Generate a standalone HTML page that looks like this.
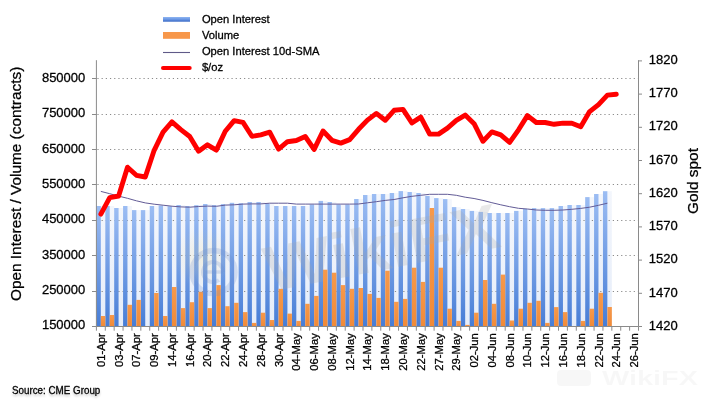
<!DOCTYPE html>
<html><head><meta charset="utf-8"><style>
html,body{margin:0;padding:0;background:#fff;}
body{width:709px;height:406px;overflow:hidden;position:relative;font-family:"Liberation Sans",Arial,sans-serif;}
svg{position:absolute;left:0;top:0;}
text{stroke:#000;stroke-width:0.28px;}
.grid{stroke:#8a8a8a;stroke-width:1;stroke-dasharray:1.2 2.99;}
.ax{stroke:#8a8a8a;stroke-width:1;}
.yl{font-size:13px;fill:#000;}
.xl{font-size:11.25px;fill:#000;}
.lg{font-size:11.2px;fill:#000;}
.tt{font-size:15.4px;fill:#000;}
.src{font-size:10.3px;fill:#000;}
</style></head><body>
<svg width="709" height="406" viewBox="0 0 709 406">
<defs>
<linearGradient id="gb" x1="0" y1="0" x2="0" y2="1">
<stop offset="0" stop-color="#9cbdf3"/><stop offset="1" stop-color="#477dd6"/>
</linearGradient>
<linearGradient id="gg" x1="0" y1="0" x2="0" y2="1">
<stop offset="0" stop-color="#f3f6fc"/><stop offset="1" stop-color="#e6edf9"/>
</linearGradient>
<radialGradient id="gy"><stop offset="0" stop-color="#f3dc8c" stop-opacity="0.22"/><stop offset="1" stop-color="#f3dc8c" stop-opacity="0"/></radialGradient>
<linearGradient id="go" x1="0" y1="0" x2="0" y2="1">
<stop offset="0" stop-color="#f7994a"/><stop offset="1" stop-color="#f08a38"/>
</linearGradient>
<linearGradient id="lb" x1="0" y1="0" x2="0" y2="1">
<stop offset="0" stop-color="#8fb5f2"/><stop offset="0.5" stop-color="#6a97e4"/><stop offset="1" stop-color="#3566c4"/>
</linearGradient>
</defs>
<rect x="96.4" y="60.2" width="542.1" height="266.3" fill="#fff"/>
<rect x="100.84" y="206" width="4.44" height="120.5" fill="url(#gg)"/>
<rect x="109.73" y="206" width="4.44" height="120.5" fill="url(#gg)"/>
<rect x="118.62" y="208" width="4.44" height="118.5" fill="url(#gg)"/>
<rect x="127.5" y="206" width="4.44" height="120.5" fill="url(#gg)"/>
<rect x="136.39" y="210.1" width="4.44" height="116.4" fill="url(#gg)"/>
<rect x="145.28" y="210.1" width="4.44" height="116.4" fill="url(#gg)"/>
<rect x="154.16" y="206" width="4.44" height="120.5" fill="url(#gg)"/>
<rect x="163.05" y="205.5" width="4.44" height="121" fill="url(#gg)"/>
<rect x="171.94" y="206.2" width="4.44" height="120.3" fill="url(#gg)"/>
<rect x="180.83" y="205" width="4.44" height="121.5" fill="url(#gg)"/>
<rect x="189.71" y="206" width="4.44" height="120.5" fill="url(#gg)"/>
<rect x="198.6" y="205.2" width="4.44" height="121.3" fill="url(#gg)"/>
<rect x="207.49" y="204" width="4.44" height="122.5" fill="url(#gg)"/>
<rect x="216.37" y="205.1" width="4.44" height="121.4" fill="url(#gg)"/>
<rect x="225.26" y="204.1" width="4.44" height="122.4" fill="url(#gg)"/>
<rect x="234.15" y="202.8" width="4.44" height="123.7" fill="url(#gg)"/>
<rect x="243.03" y="203.2" width="4.44" height="123.3" fill="url(#gg)"/>
<rect x="251.92" y="202" width="4.44" height="124.5" fill="url(#gg)"/>
<rect x="260.81" y="202" width="4.44" height="124.5" fill="url(#gg)"/>
<rect x="269.69" y="203.5" width="4.44" height="123" fill="url(#gg)"/>
<rect x="278.58" y="206" width="4.44" height="120.5" fill="url(#gg)"/>
<rect x="287.47" y="206" width="4.44" height="120.5" fill="url(#gg)"/>
<rect x="296.35" y="206" width="4.44" height="120.5" fill="url(#gg)"/>
<rect x="305.24" y="206" width="4.44" height="120.5" fill="url(#gg)"/>
<rect x="314.13" y="204.5" width="4.44" height="122" fill="url(#gg)"/>
<rect x="323.02" y="200.9" width="4.44" height="125.6" fill="url(#gg)"/>
<rect x="331.9" y="202" width="4.44" height="124.5" fill="url(#gg)"/>
<rect x="340.79" y="204.5" width="4.44" height="122" fill="url(#gg)"/>
<rect x="349.68" y="204.5" width="4.44" height="122" fill="url(#gg)"/>
<rect x="358.56" y="199" width="4.44" height="127.5" fill="url(#gg)"/>
<rect x="367.45" y="195" width="4.44" height="131.5" fill="url(#gg)"/>
<rect x="376.34" y="194" width="4.44" height="132.5" fill="url(#gg)"/>
<rect x="385.22" y="194" width="4.44" height="132.5" fill="url(#gg)"/>
<rect x="394.11" y="193" width="4.44" height="133.5" fill="url(#gg)"/>
<rect x="403" y="191.1" width="4.44" height="135.4" fill="url(#gg)"/>
<rect x="411.88" y="192" width="4.44" height="134.5" fill="url(#gg)"/>
<rect x="420.77" y="193" width="4.44" height="133.5" fill="url(#gg)"/>
<rect x="429.66" y="195.9" width="4.44" height="130.6" fill="url(#gg)"/>
<rect x="438.55" y="198.1" width="4.44" height="128.4" fill="url(#gg)"/>
<rect x="447.43" y="199.1" width="4.44" height="127.4" fill="url(#gg)"/>
<rect x="456.32" y="207.1" width="4.44" height="119.4" fill="url(#gg)"/>
<rect x="465.21" y="209" width="4.44" height="117.5" fill="url(#gg)"/>
<rect x="474.09" y="210.9" width="4.44" height="115.6" fill="url(#gg)"/>
<rect x="482.98" y="211.9" width="4.44" height="114.6" fill="url(#gg)"/>
<rect x="491.87" y="213" width="4.44" height="113.5" fill="url(#gg)"/>
<rect x="500.75" y="213" width="4.44" height="113.5" fill="url(#gg)"/>
<rect x="509.64" y="213" width="4.44" height="113.5" fill="url(#gg)"/>
<rect x="518.53" y="210.9" width="4.44" height="115.6" fill="url(#gg)"/>
<rect x="527.41" y="209" width="4.44" height="117.5" fill="url(#gg)"/>
<rect x="536.3" y="208.1" width="4.44" height="118.4" fill="url(#gg)"/>
<rect x="545.19" y="208.1" width="4.44" height="118.4" fill="url(#gg)"/>
<rect x="554.07" y="208.1" width="4.44" height="118.4" fill="url(#gg)"/>
<rect x="562.96" y="206" width="4.44" height="120.5" fill="url(#gg)"/>
<rect x="571.85" y="205" width="4.44" height="121.5" fill="url(#gg)"/>
<rect x="580.74" y="205" width="4.44" height="121.5" fill="url(#gg)"/>
<rect x="589.62" y="197.1" width="4.44" height="129.4" fill="url(#gg)"/>
<rect x="598.51" y="194" width="4.44" height="132.5" fill="url(#gg)"/>
<rect x="607.4" y="191.2" width="4.44" height="135.3" fill="url(#gg)"/>
<line x1="97.4" y1="78.5" x2="638.5" y2="78.5" class="grid"/>
<line x1="97.4" y1="114.5" x2="638.5" y2="114.5" class="grid"/>
<line x1="97.4" y1="149.5" x2="638.5" y2="149.5" class="grid"/>
<line x1="97.4" y1="184.5" x2="638.5" y2="184.5" class="grid"/>
<line x1="97.4" y1="220.5" x2="638.5" y2="220.5" class="grid"/>
<line x1="97.4" y1="255.5" x2="638.5" y2="255.5" class="grid"/>
<line x1="97.4" y1="291.5" x2="638.5" y2="291.5" class="grid"/>
<rect x="96.4" y="206" width="4.44" height="120.5" fill="url(#gb)"/>
<rect x="105.29" y="206" width="4.44" height="120.5" fill="url(#gb)"/>
<rect x="114.17" y="208" width="4.44" height="118.5" fill="url(#gb)"/>
<rect x="123.06" y="206" width="4.44" height="120.5" fill="url(#gb)"/>
<rect x="131.95" y="210.1" width="4.44" height="116.4" fill="url(#gb)"/>
<rect x="140.83" y="210.1" width="4.44" height="116.4" fill="url(#gb)"/>
<rect x="149.72" y="206" width="4.44" height="120.5" fill="url(#gb)"/>
<rect x="158.61" y="205.5" width="4.44" height="121" fill="url(#gb)"/>
<rect x="167.5" y="206.2" width="4.44" height="120.3" fill="url(#gb)"/>
<rect x="176.38" y="205" width="4.44" height="121.5" fill="url(#gb)"/>
<rect x="185.27" y="206" width="4.44" height="120.5" fill="url(#gb)"/>
<rect x="194.16" y="205.2" width="4.44" height="121.3" fill="url(#gb)"/>
<rect x="203.04" y="204" width="4.44" height="122.5" fill="url(#gb)"/>
<rect x="211.93" y="205.1" width="4.44" height="121.4" fill="url(#gb)"/>
<rect x="220.82" y="204.1" width="4.44" height="122.4" fill="url(#gb)"/>
<rect x="229.7" y="202.8" width="4.44" height="123.7" fill="url(#gb)"/>
<rect x="238.59" y="203.2" width="4.44" height="123.3" fill="url(#gb)"/>
<rect x="247.48" y="202" width="4.44" height="124.5" fill="url(#gb)"/>
<rect x="256.36" y="202" width="4.44" height="124.5" fill="url(#gb)"/>
<rect x="265.25" y="203.5" width="4.44" height="123" fill="url(#gb)"/>
<rect x="274.14" y="206" width="4.44" height="120.5" fill="url(#gb)"/>
<rect x="283.02" y="206" width="4.44" height="120.5" fill="url(#gb)"/>
<rect x="291.91" y="206" width="4.44" height="120.5" fill="url(#gb)"/>
<rect x="300.8" y="206" width="4.44" height="120.5" fill="url(#gb)"/>
<rect x="309.69" y="204.5" width="4.44" height="122" fill="url(#gb)"/>
<rect x="318.57" y="200.9" width="4.44" height="125.6" fill="url(#gb)"/>
<rect x="327.46" y="202" width="4.44" height="124.5" fill="url(#gb)"/>
<rect x="336.35" y="204.5" width="4.44" height="122" fill="url(#gb)"/>
<rect x="345.23" y="204.5" width="4.44" height="122" fill="url(#gb)"/>
<rect x="354.12" y="199" width="4.44" height="127.5" fill="url(#gb)"/>
<rect x="363.01" y="195" width="4.44" height="131.5" fill="url(#gb)"/>
<rect x="371.89" y="194" width="4.44" height="132.5" fill="url(#gb)"/>
<rect x="380.78" y="194" width="4.44" height="132.5" fill="url(#gb)"/>
<rect x="389.67" y="193" width="4.44" height="133.5" fill="url(#gb)"/>
<rect x="398.55" y="191.1" width="4.44" height="135.4" fill="url(#gb)"/>
<rect x="407.44" y="192" width="4.44" height="134.5" fill="url(#gb)"/>
<rect x="416.33" y="193" width="4.44" height="133.5" fill="url(#gb)"/>
<rect x="425.21" y="195.9" width="4.44" height="130.6" fill="url(#gb)"/>
<rect x="434.1" y="198.1" width="4.44" height="128.4" fill="url(#gb)"/>
<rect x="442.99" y="199.1" width="4.44" height="127.4" fill="url(#gb)"/>
<rect x="451.88" y="207.1" width="4.44" height="119.4" fill="url(#gb)"/>
<rect x="460.76" y="209" width="4.44" height="117.5" fill="url(#gb)"/>
<rect x="469.65" y="210.9" width="4.44" height="115.6" fill="url(#gb)"/>
<rect x="478.54" y="211.9" width="4.44" height="114.6" fill="url(#gb)"/>
<rect x="487.42" y="213" width="4.44" height="113.5" fill="url(#gb)"/>
<rect x="496.31" y="213" width="4.44" height="113.5" fill="url(#gb)"/>
<rect x="505.2" y="213" width="4.44" height="113.5" fill="url(#gb)"/>
<rect x="514.08" y="210.9" width="4.44" height="115.6" fill="url(#gb)"/>
<rect x="522.97" y="209" width="4.44" height="117.5" fill="url(#gb)"/>
<rect x="531.86" y="208.1" width="4.44" height="118.4" fill="url(#gb)"/>
<rect x="540.74" y="208.1" width="4.44" height="118.4" fill="url(#gb)"/>
<rect x="549.63" y="208.1" width="4.44" height="118.4" fill="url(#gb)"/>
<rect x="558.52" y="206" width="4.44" height="120.5" fill="url(#gb)"/>
<rect x="567.4" y="205" width="4.44" height="121.5" fill="url(#gb)"/>
<rect x="576.29" y="205" width="4.44" height="121.5" fill="url(#gb)"/>
<rect x="585.18" y="197.1" width="4.44" height="129.4" fill="url(#gb)"/>
<rect x="594.07" y="194" width="4.44" height="132.5" fill="url(#gb)"/>
<rect x="602.95" y="191.2" width="4.44" height="135.3" fill="url(#gb)"/>
<rect x="100.84" y="316" width="4.44" height="10.5" fill="url(#go)"/>
<rect x="109.73" y="315" width="4.44" height="11.5" fill="url(#go)"/>
<rect x="127.5" y="304.8" width="4.44" height="21.7" fill="url(#go)"/>
<rect x="136.39" y="299.9" width="4.44" height="26.6" fill="url(#go)"/>
<rect x="154.16" y="293" width="4.44" height="33.5" fill="url(#go)"/>
<rect x="163.05" y="316" width="4.44" height="10.5" fill="url(#go)"/>
<rect x="171.94" y="287" width="4.44" height="39.5" fill="url(#go)"/>
<rect x="180.83" y="308.1" width="4.44" height="18.4" fill="url(#go)"/>
<rect x="189.71" y="302.2" width="4.44" height="24.3" fill="url(#go)"/>
<rect x="198.6" y="291.8" width="4.44" height="34.7" fill="url(#go)"/>
<rect x="207.49" y="308.1" width="4.44" height="18.4" fill="url(#go)"/>
<rect x="216.37" y="285.1" width="4.44" height="41.4" fill="url(#go)"/>
<rect x="225.26" y="306.2" width="4.44" height="20.3" fill="url(#go)"/>
<rect x="234.15" y="302.8" width="4.44" height="23.7" fill="url(#go)"/>
<rect x="243.03" y="312.1" width="4.44" height="14.4" fill="url(#go)"/>
<rect x="251.92" y="322.9" width="4.44" height="3.6" fill="url(#go)"/>
<rect x="260.81" y="312.7" width="4.44" height="13.8" fill="url(#go)"/>
<rect x="269.69" y="320" width="4.44" height="6.5" fill="url(#go)"/>
<rect x="278.58" y="288.8" width="4.44" height="37.7" fill="url(#go)"/>
<rect x="287.47" y="313.6" width="4.44" height="12.9" fill="url(#go)"/>
<rect x="296.35" y="320.9" width="4.44" height="5.6" fill="url(#go)"/>
<rect x="305.24" y="303.8" width="4.44" height="22.7" fill="url(#go)"/>
<rect x="314.13" y="295.9" width="4.44" height="30.6" fill="url(#go)"/>
<rect x="323.02" y="269.7" width="4.44" height="56.8" fill="url(#go)"/>
<rect x="331.9" y="272.7" width="4.44" height="53.8" fill="url(#go)"/>
<rect x="340.79" y="285.1" width="4.44" height="41.4" fill="url(#go)"/>
<rect x="349.68" y="288.8" width="4.44" height="37.7" fill="url(#go)"/>
<rect x="358.56" y="288" width="4.44" height="38.5" fill="url(#go)"/>
<rect x="367.45" y="293.9" width="4.44" height="32.6" fill="url(#go)"/>
<rect x="376.34" y="297.9" width="4.44" height="28.6" fill="url(#go)"/>
<rect x="385.22" y="270.7" width="4.44" height="55.8" fill="url(#go)"/>
<rect x="394.11" y="301.8" width="4.44" height="24.7" fill="url(#go)"/>
<rect x="403" y="298.9" width="4.44" height="27.6" fill="url(#go)"/>
<rect x="411.88" y="267.7" width="4.44" height="58.8" fill="url(#go)"/>
<rect x="420.77" y="281.9" width="4.44" height="44.6" fill="url(#go)"/>
<rect x="429.66" y="208" width="4.44" height="118.5" fill="url(#go)"/>
<rect x="438.55" y="267.7" width="4.44" height="58.8" fill="url(#go)"/>
<rect x="447.43" y="308.7" width="4.44" height="17.8" fill="url(#go)"/>
<rect x="456.32" y="320.9" width="4.44" height="5.6" fill="url(#go)"/>
<rect x="465.21" y="324.9" width="4.44" height="1.6" fill="url(#go)"/>
<rect x="474.09" y="312.7" width="4.44" height="13.8" fill="url(#go)"/>
<rect x="482.98" y="280" width="4.44" height="46.5" fill="url(#go)"/>
<rect x="491.87" y="303.8" width="4.44" height="22.7" fill="url(#go)"/>
<rect x="500.75" y="274.6" width="4.44" height="51.9" fill="url(#go)"/>
<rect x="509.64" y="320.5" width="4.44" height="6" fill="url(#go)"/>
<rect x="518.53" y="308.7" width="4.44" height="17.8" fill="url(#go)"/>
<rect x="527.41" y="302.8" width="4.44" height="23.7" fill="url(#go)"/>
<rect x="536.3" y="300.8" width="4.44" height="25.7" fill="url(#go)"/>
<rect x="545.19" y="322.9" width="4.44" height="3.6" fill="url(#go)"/>
<rect x="554.07" y="307.1" width="4.44" height="19.4" fill="url(#go)"/>
<rect x="562.96" y="312.1" width="4.44" height="14.4" fill="url(#go)"/>
<rect x="580.74" y="320.9" width="4.44" height="5.6" fill="url(#go)"/>
<rect x="589.62" y="308.7" width="4.44" height="17.8" fill="url(#go)"/>
<rect x="598.51" y="292.8" width="4.44" height="33.7" fill="url(#go)"/>
<rect x="607.4" y="307" width="4.44" height="19.5" fill="url(#go)"/>
<g opacity="0.24" fill="#a8a8a8"><text transform="translate(269,292) rotate(-11)" textLength="238" lengthAdjust="spacingAndGlyphs" style="font-family:&quot;Liberation Sans&quot;,sans-serif;font-weight:bold;font-size:64px;stroke:none">WikiFX</text></g>
<circle cx="203" cy="258" r="30" fill="url(#gy)"/>
<g fill="none" stroke="#6f8fd0" opacity="0.22"><circle cx="213.5" cy="272" r="21.5" stroke-width="5.5"/><path d="M223 272 A10 10 0 1 0 219 280" stroke-width="4"/><path d="M204 272 H223" stroke-width="3.5"/></g>
<polyline points="100.84,191.4 109.73,193.7 118.62,196.1 127.5,198.3 136.39,200.8 145.28,202.9 154.16,204.2 163.05,205.2 171.94,206.2 180.83,206.9 189.71,207.2 198.6,206.5 207.49,206.1 216.37,206.3 225.26,205.1 234.15,204.8 243.03,204.1 251.92,203.9 260.81,203.9 269.69,203.2 278.58,203.2 287.47,203.2 296.35,204.1 305.24,204.1 314.13,204.1 323.02,204.1 331.9,204.1 340.79,204.1 349.68,204.1 358.56,204 367.45,202.8 376.34,201.7 385.22,200.4 394.11,199.5 403,197.8 411.88,196.3 420.77,195.3 429.66,194.3 438.55,194.3 447.43,194.3 456.32,195.3 465.21,197.2 474.09,198.5 482.98,200.4 491.87,202.7 500.75,204.8 509.64,206.7 518.53,208.3 527.41,209 536.3,210 545.19,210.3 554.07,210.3 562.96,210 571.85,209.3 580.74,208.4 589.62,207.2 598.51,205.3 607.4,203.2" fill="none" stroke="#625b96" stroke-width="1" stroke-linejoin="round"/>
<polyline points="100.84,214.1 109.73,197.7 118.62,196 127.5,167.2 136.39,175.3 145.28,177 154.16,150.3 163.05,132.2 171.94,121.9 180.83,129.6 189.71,136.5 198.6,151.2 207.49,144.8 216.37,150.1 225.26,131.3 234.15,120.6 243.03,122.4 251.92,136.3 260.81,134.8 269.69,132.2 278.58,149.1 287.47,141.7 296.35,140.5 305.24,136.5 314.13,149.4 323.02,131 331.9,140.3 340.79,143.1 349.68,139.6 358.56,129.3 367.45,120.1 376.34,113.4 385.22,120.3 394.11,110.3 403,109.4 411.88,122.9 420.77,117.1 429.66,134 438.55,134.1 447.43,128.1 456.32,120.3 465.21,115.1 474.09,123.7 482.98,141.3 491.87,131.9 500.75,134.8 509.64,142.3 518.53,129.8 527.41,115.6 536.3,122.5 545.19,122.5 554.07,124.3 562.96,123.1 571.85,123.2 580.74,126.7 589.62,111.6 598.51,104.6 607.4,95.1 616.28,94.3" fill="none" stroke="#ff0000" stroke-width="4.9" stroke-linejoin="round" stroke-linecap="round"/>
<line x1="96.4" y1="60.2" x2="96.4" y2="326.5" class="ax"/>
<line x1="638.5" y1="60.2" x2="638.5" y2="326.5" class="ax"/>
<line x1="96.4" y1="326.5" x2="638.5" y2="326.5" class="ax"/>
<line x1="92" y1="78.5" x2="96.4" y2="78.5" class="ax"/>
<text x="85.3" y="81.9" class="yl" text-anchor="end">850000</text>
<line x1="92" y1="114.5" x2="96.4" y2="114.5" class="ax"/>
<text x="85.3" y="117.24" class="yl" text-anchor="end">750000</text>
<line x1="92" y1="149.5" x2="96.4" y2="149.5" class="ax"/>
<text x="85.3" y="152.58" class="yl" text-anchor="end">650000</text>
<line x1="92" y1="184.5" x2="96.4" y2="184.5" class="ax"/>
<text x="85.3" y="187.92" class="yl" text-anchor="end">550000</text>
<line x1="92" y1="220.5" x2="96.4" y2="220.5" class="ax"/>
<text x="85.3" y="223.26" class="yl" text-anchor="end">450000</text>
<line x1="92" y1="255.5" x2="96.4" y2="255.5" class="ax"/>
<text x="85.3" y="258.6" class="yl" text-anchor="end">350000</text>
<line x1="92" y1="291.5" x2="96.4" y2="291.5" class="ax"/>
<text x="85.3" y="293.94" class="yl" text-anchor="end">250000</text>
<line x1="92" y1="326.5" x2="96.4" y2="326.5" class="ax"/>
<text x="85.3" y="329.28" class="yl" text-anchor="end">150000</text>
<line x1="638.5" y1="326.5" x2="642" y2="326.5" class="ax"/>
<text x="648.8" y="329.94" class="yl">1420</text>
<line x1="638.5" y1="293.3" x2="642" y2="293.3" class="ax"/>
<text x="648.8" y="296.66" class="yl">1470</text>
<line x1="638.5" y1="260.1" x2="642" y2="260.1" class="ax"/>
<text x="648.8" y="263.38" class="yl">1520</text>
<line x1="638.5" y1="226.9" x2="642" y2="226.9" class="ax"/>
<text x="648.8" y="230.1" class="yl">1570</text>
<line x1="638.5" y1="193.7" x2="642" y2="193.7" class="ax"/>
<text x="648.8" y="196.82" class="yl">1620</text>
<line x1="638.5" y1="160.5" x2="642" y2="160.5" class="ax"/>
<text x="648.8" y="163.54" class="yl">1670</text>
<line x1="638.5" y1="127.3" x2="642" y2="127.3" class="ax"/>
<text x="648.8" y="130.26" class="yl">1720</text>
<line x1="638.5" y1="94.1" x2="642" y2="94.1" class="ax"/>
<text x="648.8" y="96.98" class="yl">1770</text>
<line x1="638.5" y1="60.9" x2="642" y2="60.9" class="ax"/>
<text x="648.8" y="63.7" class="yl">1820</text>
<line x1="96.4" y1="326.5" x2="96.4" y2="330.7" class="ax"/>
<line x1="105.29" y1="326.5" x2="105.29" y2="330.7" class="ax"/>
<line x1="114.17" y1="326.5" x2="114.17" y2="330.7" class="ax"/>
<line x1="123.06" y1="326.5" x2="123.06" y2="330.7" class="ax"/>
<line x1="131.95" y1="326.5" x2="131.95" y2="330.7" class="ax"/>
<line x1="140.83" y1="326.5" x2="140.83" y2="330.7" class="ax"/>
<line x1="149.72" y1="326.5" x2="149.72" y2="330.7" class="ax"/>
<line x1="158.61" y1="326.5" x2="158.61" y2="330.7" class="ax"/>
<line x1="167.5" y1="326.5" x2="167.5" y2="330.7" class="ax"/>
<line x1="176.38" y1="326.5" x2="176.38" y2="330.7" class="ax"/>
<line x1="185.27" y1="326.5" x2="185.27" y2="330.7" class="ax"/>
<line x1="194.16" y1="326.5" x2="194.16" y2="330.7" class="ax"/>
<line x1="203.04" y1="326.5" x2="203.04" y2="330.7" class="ax"/>
<line x1="211.93" y1="326.5" x2="211.93" y2="330.7" class="ax"/>
<line x1="220.82" y1="326.5" x2="220.82" y2="330.7" class="ax"/>
<line x1="229.7" y1="326.5" x2="229.7" y2="330.7" class="ax"/>
<line x1="238.59" y1="326.5" x2="238.59" y2="330.7" class="ax"/>
<line x1="247.48" y1="326.5" x2="247.48" y2="330.7" class="ax"/>
<line x1="256.36" y1="326.5" x2="256.36" y2="330.7" class="ax"/>
<line x1="265.25" y1="326.5" x2="265.25" y2="330.7" class="ax"/>
<line x1="274.14" y1="326.5" x2="274.14" y2="330.7" class="ax"/>
<line x1="283.02" y1="326.5" x2="283.02" y2="330.7" class="ax"/>
<line x1="291.91" y1="326.5" x2="291.91" y2="330.7" class="ax"/>
<line x1="300.8" y1="326.5" x2="300.8" y2="330.7" class="ax"/>
<line x1="309.69" y1="326.5" x2="309.69" y2="330.7" class="ax"/>
<line x1="318.57" y1="326.5" x2="318.57" y2="330.7" class="ax"/>
<line x1="327.46" y1="326.5" x2="327.46" y2="330.7" class="ax"/>
<line x1="336.35" y1="326.5" x2="336.35" y2="330.7" class="ax"/>
<line x1="345.23" y1="326.5" x2="345.23" y2="330.7" class="ax"/>
<line x1="354.12" y1="326.5" x2="354.12" y2="330.7" class="ax"/>
<line x1="363.01" y1="326.5" x2="363.01" y2="330.7" class="ax"/>
<line x1="371.89" y1="326.5" x2="371.89" y2="330.7" class="ax"/>
<line x1="380.78" y1="326.5" x2="380.78" y2="330.7" class="ax"/>
<line x1="389.67" y1="326.5" x2="389.67" y2="330.7" class="ax"/>
<line x1="398.55" y1="326.5" x2="398.55" y2="330.7" class="ax"/>
<line x1="407.44" y1="326.5" x2="407.44" y2="330.7" class="ax"/>
<line x1="416.33" y1="326.5" x2="416.33" y2="330.7" class="ax"/>
<line x1="425.21" y1="326.5" x2="425.21" y2="330.7" class="ax"/>
<line x1="434.1" y1="326.5" x2="434.1" y2="330.7" class="ax"/>
<line x1="442.99" y1="326.5" x2="442.99" y2="330.7" class="ax"/>
<line x1="451.88" y1="326.5" x2="451.88" y2="330.7" class="ax"/>
<line x1="460.76" y1="326.5" x2="460.76" y2="330.7" class="ax"/>
<line x1="469.65" y1="326.5" x2="469.65" y2="330.7" class="ax"/>
<line x1="478.54" y1="326.5" x2="478.54" y2="330.7" class="ax"/>
<line x1="487.42" y1="326.5" x2="487.42" y2="330.7" class="ax"/>
<line x1="496.31" y1="326.5" x2="496.31" y2="330.7" class="ax"/>
<line x1="505.2" y1="326.5" x2="505.2" y2="330.7" class="ax"/>
<line x1="514.08" y1="326.5" x2="514.08" y2="330.7" class="ax"/>
<line x1="522.97" y1="326.5" x2="522.97" y2="330.7" class="ax"/>
<line x1="531.86" y1="326.5" x2="531.86" y2="330.7" class="ax"/>
<line x1="540.74" y1="326.5" x2="540.74" y2="330.7" class="ax"/>
<line x1="549.63" y1="326.5" x2="549.63" y2="330.7" class="ax"/>
<line x1="558.52" y1="326.5" x2="558.52" y2="330.7" class="ax"/>
<line x1="567.4" y1="326.5" x2="567.4" y2="330.7" class="ax"/>
<line x1="576.29" y1="326.5" x2="576.29" y2="330.7" class="ax"/>
<line x1="585.18" y1="326.5" x2="585.18" y2="330.7" class="ax"/>
<line x1="594.07" y1="326.5" x2="594.07" y2="330.7" class="ax"/>
<line x1="602.95" y1="326.5" x2="602.95" y2="330.7" class="ax"/>
<line x1="611.84" y1="326.5" x2="611.84" y2="330.7" class="ax"/>
<line x1="620.73" y1="326.5" x2="620.73" y2="330.7" class="ax"/>
<line x1="629.61" y1="326.5" x2="629.61" y2="330.7" class="ax"/>
<line x1="638.5" y1="326.5" x2="638.5" y2="330.7" class="ax"/>
<text transform="translate(104.84,333.2) rotate(-90)" class="xl" text-anchor="end">01-Apr</text>
<text transform="translate(122.62,333.2) rotate(-90)" class="xl" text-anchor="end">03-Apr</text>
<text transform="translate(140.39,333.2) rotate(-90)" class="xl" text-anchor="end">07-Apr</text>
<text transform="translate(158.16,333.2) rotate(-90)" class="xl" text-anchor="end">09-Apr</text>
<text transform="translate(175.94,333.2) rotate(-90)" class="xl" text-anchor="end">14-Apr</text>
<text transform="translate(193.71,333.2) rotate(-90)" class="xl" text-anchor="end">16-Apr</text>
<text transform="translate(211.49,333.2) rotate(-90)" class="xl" text-anchor="end">20-Apr</text>
<text transform="translate(229.26,333.2) rotate(-90)" class="xl" text-anchor="end">22-Apr</text>
<text transform="translate(247.03,333.2) rotate(-90)" class="xl" text-anchor="end">24-Apr</text>
<text transform="translate(264.81,333.2) rotate(-90)" class="xl" text-anchor="end">28-Apr</text>
<text transform="translate(282.58,333.2) rotate(-90)" class="xl" text-anchor="end">30-Apr</text>
<text transform="translate(300.35,333.2) rotate(-90)" class="xl" text-anchor="end">04-May</text>
<text transform="translate(318.13,333.2) rotate(-90)" class="xl" text-anchor="end">06-May</text>
<text transform="translate(335.9,333.2) rotate(-90)" class="xl" text-anchor="end">08-May</text>
<text transform="translate(353.68,333.2) rotate(-90)" class="xl" text-anchor="end">12-May</text>
<text transform="translate(371.45,333.2) rotate(-90)" class="xl" text-anchor="end">14-May</text>
<text transform="translate(389.22,333.2) rotate(-90)" class="xl" text-anchor="end">18-May</text>
<text transform="translate(407,333.2) rotate(-90)" class="xl" text-anchor="end">20-May</text>
<text transform="translate(424.77,333.2) rotate(-90)" class="xl" text-anchor="end">22-May</text>
<text transform="translate(442.55,333.2) rotate(-90)" class="xl" text-anchor="end">27-May</text>
<text transform="translate(460.32,333.2) rotate(-90)" class="xl" text-anchor="end">29-May</text>
<text transform="translate(478.09,333.2) rotate(-90)" class="xl" text-anchor="end">02-Jun</text>
<text transform="translate(495.87,333.2) rotate(-90)" class="xl" text-anchor="end">04-Jun</text>
<text transform="translate(513.64,333.2) rotate(-90)" class="xl" text-anchor="end">08-Jun</text>
<text transform="translate(531.41,333.2) rotate(-90)" class="xl" text-anchor="end">10-Jun</text>
<text transform="translate(549.19,333.2) rotate(-90)" class="xl" text-anchor="end">12-Jun</text>
<text transform="translate(566.96,333.2) rotate(-90)" class="xl" text-anchor="end">16-Jun</text>
<text transform="translate(584.74,333.2) rotate(-90)" class="xl" text-anchor="end">18-Jun</text>
<text transform="translate(602.51,333.2) rotate(-90)" class="xl" text-anchor="end">22-Jun</text>
<text transform="translate(620.28,333.2) rotate(-90)" class="xl" text-anchor="end">24-Jun</text>
<text transform="translate(638.06,333.2) rotate(-90)" class="xl" text-anchor="end">26-Jun</text>
<!-- legend -->
<rect x="163" y="17" width="27" height="4.7" fill="url(#lb)"/>
<text x="201.9" y="23.4" class="lg">Open Interest</text>
<rect x="163" y="32" width="27" height="6.8" fill="#f7974a"/>
<text x="201.9" y="39.1" class="lg">Volume</text>
<line x1="163" y1="52.5" x2="190" y2="52.5" stroke="#5f5a88" stroke-width="1.1"/>
<text x="201.9" y="55.4" class="lg">Open Interest 10d-SMA</text>
<line x1="163" y1="68" x2="189.7" y2="68" stroke="#ff0000" stroke-width="4" stroke-linecap="round"/>
<text x="201.9" y="71" class="lg">$/oz</text>
<!-- titles -->
<text transform="translate(20.6,183.9) rotate(-90)" class="tt" text-anchor="middle">Open Interest / Volume (contracts)</text>
<text transform="translate(698.3,181) rotate(-90)" class="tt" text-anchor="middle">Gold spot</text>
<text x="12" y="393.6" class="src" textLength="88.3" lengthAdjust="spacingAndGlyphs" style="filter:drop-shadow(0 2px 1.2px rgba(0,0,0,0.22))">Source: CME Group</text>
<g opacity="0.028" fill="#000" style="stroke:none"><rect x="557" y="370" width="34" height="16" rx="4"/><text x="602" y="385" style="font-family:&quot;Liberation Sans&quot;,sans-serif;font-weight:bold;font-size:21px;stroke:none" textLength="96" lengthAdjust="spacingAndGlyphs">WikiFX</text></g>
</svg>
</body></html>
